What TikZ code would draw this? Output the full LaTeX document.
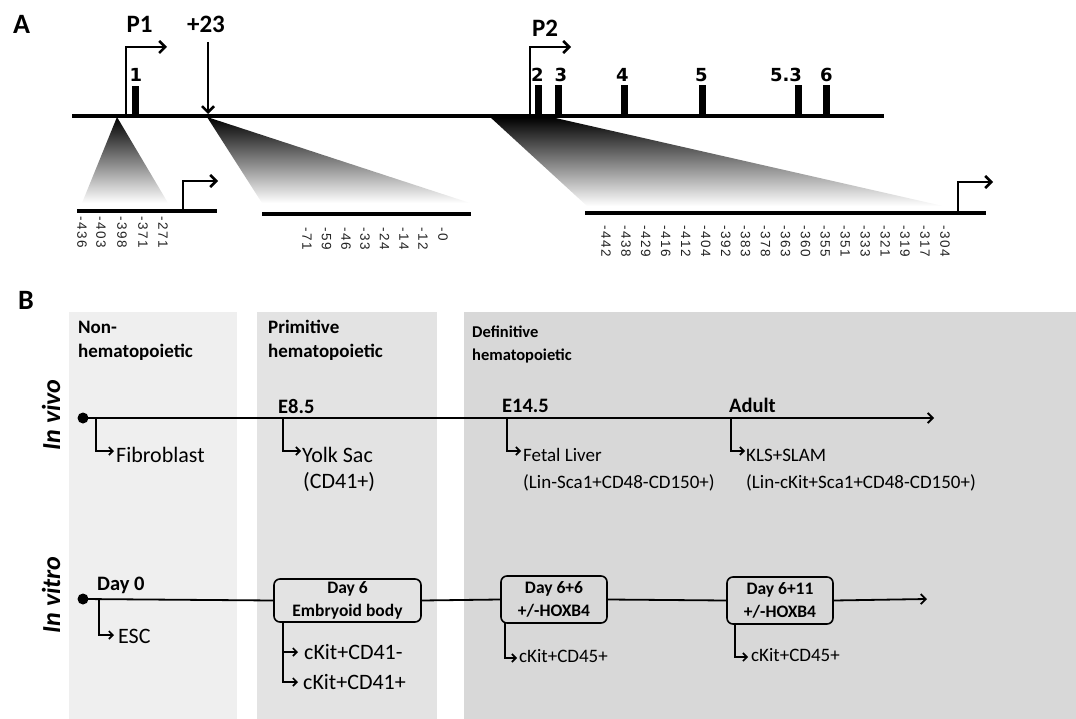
\documentclass[tikz,border=0pt]{standalone}
\usepackage{fontspec}
\setmainfont{Carlito}
\newfontfamily\numfont[LetterSpace=12]{Liberation Sans}
\newfontfamily\exfont{DejaVu Sans}
\usetikzlibrary{arrows.meta}
\definecolor{panelA}{HTML}{EFEFEF}
\definecolor{panelB}{HTML}{E3E3E3}
\definecolor{panelC}{HTML}{D8D8D8}
\definecolor{numgray}{HTML}{222222}
\tikzset{
  panellbl/.style={font=\bfseries\fontsize{28}{30}\selectfont, inner sep=0pt},
  biglbl/.style={font=\bfseries\fontsize{25}{28}\selectfont, inner sep=0pt},
  exlbl/.style={font=\exfont\bfseries\fontsize{18}{20}\selectfont, inner sep=0pt},
  numlbl/.style={font=\numfont\fontsize{13.5}{15}\selectfont, text=numgray, rotate=-90, anchor=west, inner sep=0pt},
  gline/.style={line width=3.5pt},
  prom/.style={line width=2.5pt, -{Straight Barb[length=6pt,width=12pt,line width=2.5pt]}},
  shadetri/.style={top color=black, bottom color=white},
  btitle/.style={font=\bfseries\fontsize{19}{22}\selectfont, anchor=base west, inner sep=0pt},
  btitlesm/.style={font=\bfseries\fontsize{16.5}{20}\selectfont, anchor=base west, inner sep=0pt},
  tlbold/.style={font=\bfseries\fontsize{20.5}{24}\selectfont, anchor=base west, inner sep=0pt},
  blab/.style={font=\fontsize{19}{23}\selectfont, anchor=base west, inner sep=0pt},
  blabbig/.style={font=\fontsize{22}{26}\selectfont, anchor=base west, inner sep=0pt},
  vlab/.style={font=\bfseries\itshape\fontsize{26}{28}\selectfont, rotate=90, inner sep=0pt},
  tl/.style={line width=1.8pt},
  tlarrow/.style={line width=1.8pt, -{Straight Barb[length=5pt,width=10pt,line width=1.8pt]}},
  brarrow/.style={line width=1.8pt, -{Straight Barb[length=4pt,width=8pt,line width=1.6pt]}},
  startdot/.style={circle, fill=black, minimum size=11pt, inner sep=0pt},
  daybox/.style={draw, line width=1.6pt, rounded corners=6pt, align=center, inner sep=0pt,
     font=\bfseries\fontsize{17.5}{22.5}\selectfont},
}
\begin{document}
\begin{tikzpicture}[x=1pt,y=-1pt]
\useasboundingbox (0,0) rectangle (1076,719);

% ================= Part A =================
\node[panellbl] (labA) at (21.5,24) {A};

% shaded zoom triangles
\shade[shadetri] (117,117) -- (82,203) -- (168,203) -- cycle;
\shade[shadetri] (207,117) -- (262,203) -- (470,203) -- cycle;
\shade[shadetri] (490,117) -- (551,117) -- (943,206) -- (587,206) -- cycle;

% main gene line
\coordinate (mlL) at (72,116);
\coordinate (mlR) at (884,116);
\draw[gline] (mlL) -- (mlR);

% exons
\fill (132,86) rectangle (138.5,116);
\fill (534.5,85) rectangle (541.5,116);
\fill (554.5,85) rectangle (561.5,116);
\fill (620.5,85) rectangle (627.5,116);
\fill (698.5,85) rectangle (705.5,116);
\fill (794.5,85) rectangle (801.5,116);
\fill (823,85) rectangle (830,116);

\node[exlbl] (e1) at (136,75) {1};
\node[exlbl] (e2) at (537.5,75) {2};
\node[exlbl] (e3) at (561,75) {3};
\node[exlbl] (e4) at (622.5,75) {4};
\node[exlbl] (e5) at (701.5,75) {5};
\node[exlbl] (e53) at (786,75) {5.3};
\node[exlbl] (e6) at (826.5,75) {6};

% P1 promoter
\coordinate (p1b) at (126,116);
\coordinate (p1t) at (126,47);
\coordinate (p1e) at (167,47);
\draw[prom] (p1b) -- (p1t) -- (p1e);
\node[biglbl] (P1) at (139.5,24) {P1};

% +23 arrow
\node[biglbl] (plus23) at (206,24) {+23};
\coordinate (s23t) at (208,42);
\coordinate (s23b) at (208,114);
\draw[prom] (s23t) -- (s23b);

% P2 promoter
\coordinate (p2b) at (530,116);
\coordinate (p2t) at (530,47);
\coordinate (p2e) at (571,47);
\draw[prom] (p2b) -- (p2t) -- (p2e);
\node[biglbl] (P2) at (545,28) {P2};

% sub-line 1
\coordinate (s1L) at (77,211);
\coordinate (s1R) at (217,211);
\draw[gline] (s1L) -- (s1R);
\coordinate (s1pb) at (183,211);
\coordinate (s1pt) at (183,181);
\coordinate (s1pe) at (218,181);
\draw[prom] (s1pb) -- (s1pt) -- (s1pe);
\foreach \x/\t [count=\i] in {82/-436,101/-403,122/-398,143/-371,163/-271}
  \node[numlbl] (na\i) at (\x,216) {\t};

% sub-line 2
\coordinate (s2L) at (262,214);
\coordinate (s2R) at (471,214);
\draw[gline] (s2L) -- (s2R);
\foreach \x/\t [count=\i] in {307/-71,326.5/-59,346/-46,365/-33,384.5/-24,404/-14,423/-12,443/-0}
  \node[numlbl] (nb\i) at (\x,227) {\t};

% sub-line 3
\coordinate (s3L) at (585,213);
\coordinate (s3R) at (986,213);
\draw[gline] (s3L) -- (s3R);
\coordinate (s3pb) at (958,213);
\coordinate (s3pt) at (958,182);
\coordinate (s3pe) at (993,182);
\draw[prom] (s3pb) -- (s3pt) -- (s3pe);
\foreach \t [count=\i] in {-442,-438,-429,-416,-412,-404,-392,-383,-378,-363,-360,-355,-351,-333,-321,-319,-317,-304}
  \node[numlbl] (nc\i) at ({606+(\i-1)*19.94},225) {\t};

% ================= Part B =================
\node[panellbl] (labB) at (26,300) {B};

\fill[panelA] (69,312) rectangle (237,719);
\fill[panelB] (257,312) rectangle (437,719);
\fill[panelC] (464,312) rectangle (1076,719);

\node[btitle] (t1a) at (78,333) {Non-};
\node[btitle] (t1b) at (78,357) {hematopoietic};
\node[btitle] (t2a) at (268,333) {Primitive};
\node[btitle] (t2b) at (268,357) {hematopoietic};
\node[btitlesm] (t3a) at (472,337) {Definitive};
\node[btitlesm] (t3b) at (472,360) {hematopoietic};

% ---- In vivo ----
\node[vlab] (invivo) at (51,415) {In vivo};
\node[startdot] (vdot) at (83,418) {};
\coordinate (vend) at (934,418);
\draw[tlarrow] (vdot.center) -- (vend);

\node[tlbold] (e85) at (278,413) {E8.5};
\node[tlbold] (e145) at (502,412) {E14.5};
\node[tlbold] (adult) at (729,412) {Adult};

\coordinate (fbA) at (96,418);
\coordinate (fbB) at (96,451);
\coordinate (fbC) at (114,451);
\draw[brarrow] (fbA) -- (fbB) -- (fbC);
\node[blabbig] (fibro) at (116,462) {Fibroblast};

\coordinate (ysA) at (283,418);
\coordinate (ysB) at (283,451);
\coordinate (ysC) at (301,451);
\draw[brarrow] (ysA) -- (ysB) -- (ysC);
\node[blabbig] (yolk) at (302,462) {Yolk Sac};
\node[blabbig] (yolk2) at (303,488) {(CD41+)};

\coordinate (flA) at (507,418);
\coordinate (flB) at (507,451);
\coordinate (flC) at (521,451);
\draw[brarrow] (flA) -- (flB) -- (flC);
\node[blab] (fetal) at (523,461) {Fetal Liver};
\node[blab] (fetal2) at (523,488) {(Lin-Sca1+CD48-CD150+)};

\coordinate (klA) at (731,418);
\coordinate (klB) at (731,451);
\coordinate (klC) at (745,451);
\draw[brarrow] (klA) -- (klB) -- (klC);
\node[blab] (kls) at (746,461) {KLS+SLAM};
\node[blab] (kls2) at (746,488) {(Lin-cKit+Sca1+CD48-CD150+)};

% ---- In vitro ----
\node[vlab] (invitro) at (51,595) {In vitro};
\node[startdot] (tdot) at (83,599) {};
\node[tlbold] (day0) at (97,590) {Day 0};

\node[daybox, minimum width=147pt, minimum height=43pt] (box1) at (347.5,600.5) {Day 6\\Embryoid body};
\node[daybox, minimum width=106pt, minimum height=47pt] (box2) at (554,599.5) {Day 6+6\\+/-HOXB4};
\node[daybox, minimum width=106pt, minimum height=47pt] (box3) at (780,600.5) {Day 6+11\\+/-HOXB4};
\coordinate (tend) at (927,599);

\draw[tl] (tdot.center) -- (box1.west);
\draw[tl] (box1.east) -- (box2.west);
\draw[tl] (box2.east) -- (box3.west);
\draw[tlarrow] (box3.east) -- (tend);

\coordinate (esA) at (99,599);
\coordinate (esB) at (99,635);
\coordinate (esC) at (114,635);
\draw[brarrow] (esA) -- (esB) -- (esC);
\node[blabbig] (esc) at (118,643) {ESC};

\coordinate (ebA) at (283,622);
\coordinate (ebM) at (283,652);
\coordinate (ebMe) at (298,652);
\coordinate (ebB) at (283,682);
\coordinate (ebC) at (298,682);
\draw[brarrow] (ebA) -- (ebB) -- (ebC);
\draw[brarrow] (ebM) -- (ebMe);
\node[blabbig] (ck41m) at (304,659) {cKit+CD41-};
\node[blabbig] (ck41p) at (303,689) {cKit+CD41+};

\coordinate (b2A) at (505,623);
\coordinate (b2B) at (505,658);
\coordinate (b2C) at (517,658);
\draw[brarrow] (b2A) -- (b2B) -- (b2C);
\node[blab] (ck45a) at (519,662) {cKit+CD45+};

\coordinate (b3A) at (735,624);
\coordinate (b3B) at (735,657);
\coordinate (b3C) at (748,657);
\draw[brarrow] (b3A) -- (b3B) -- (b3C);
\node[blab] (ck45b) at (751,661) {cKit+CD45+};
\end{tikzpicture}
\end{document}
